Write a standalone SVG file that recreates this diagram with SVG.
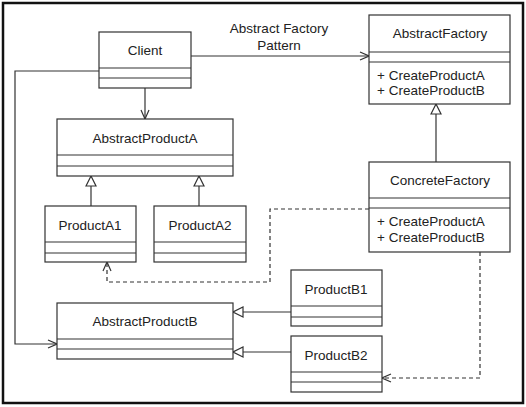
<svg xmlns="http://www.w3.org/2000/svg" width="526" height="407" viewBox="0 0 526 407">
<style>
.box{fill:#fff;stroke:#333;stroke-width:1.2}
.ln{fill:none;stroke:#333;stroke-width:1.2}
.dash{fill:none;stroke:#333;stroke-width:1.2;stroke-dasharray:4 3}
text{font-family:"Liberation Sans",Arial,sans-serif;font-size:13.5px;fill:#222}
.c{text-anchor:middle}
</style>
<defs>
<marker id="open" viewBox="0 0 10 10" refX="10" refY="5" markerWidth="10" markerHeight="10" markerUnits="userSpaceOnUse" orient="auto">
<path d="M1,1 L10,5 L1,9" fill="none" stroke="#333" stroke-width="1.2"/>
</marker>
<marker id="tri" viewBox="0 0 12 12" refX="11" refY="6" markerWidth="12" markerHeight="12" markerUnits="userSpaceOnUse" orient="auto">
<path d="M1,1 L11,6 L1,11 Z" fill="#fff" stroke="#333" stroke-width="1.2"/>
</marker>
</defs>
<rect x="3" y="3" width="520" height="400" fill="#fff" stroke="#111" stroke-width="2.5"/>
<g id="connectors">
<line class="ln" x1="191" y1="56" x2="369" y2="56" marker-end="url(#open)"/>
<line class="ln" x1="145" y1="88" x2="145" y2="119" marker-end="url(#open)"/>
<polyline class="ln" points="99,71 15,71 15,344 57,344" marker-end="url(#open)"/>
<line class="ln" x1="436" y1="162" x2="436" y2="104" marker-end="url(#tri)"/>
<line class="ln" x1="91" y1="206" x2="91" y2="176" marker-end="url(#tri)"/>
<line class="ln" x1="199" y1="206" x2="199" y2="176" marker-end="url(#tri)"/>
<line class="ln" x1="291" y1="312" x2="233" y2="312" marker-end="url(#tri)"/>
<line class="ln" x1="291" y1="352" x2="233" y2="352" marker-end="url(#tri)"/>
<polyline class="dash" points="369,209 270,209 270,282 107,282 107,262" marker-end="url(#open)"/>
<polyline class="dash" points="480,252 480,378 382,378" marker-end="url(#open)"/>
</g>
<text class="c" x="279" y="33">Abstract Factory</text>
<text class="c" x="279" y="50">Pattern</text>
<g id="client">
<rect class="box" x="99" y="32" width="92" height="56"/>
<line class="ln" x1="99" y1="68" x2="191" y2="68"/>
<line class="ln" x1="99" y1="78" x2="191" y2="78"/>
<text class="c" x="145" y="55">Client</text>
</g>
<g id="abstractFactory">
<rect class="box" x="369" y="15" width="141" height="89"/>
<line class="ln" x1="369" y1="52" x2="510" y2="52"/>
<line class="ln" x1="369" y1="62" x2="510" y2="62"/>
<text class="c" x="440" y="38">AbstractFactory</text>
<text x="377" y="80">+ CreateProductA</text>
<text x="377" y="95">+ CreateProductB</text>
</g>
<g id="abstractProductA">
<rect class="box" x="57" y="119" width="176" height="57"/>
<line class="ln" x1="57" y1="155" x2="233" y2="155"/>
<line class="ln" x1="57" y1="166" x2="233" y2="166"/>
<text class="c" x="145" y="143">AbstractProductA</text>
</g>
<g id="concreteFactory">
<rect class="box" x="369" y="162" width="141" height="90"/>
<line class="ln" x1="369" y1="198" x2="510" y2="198"/>
<line class="ln" x1="369" y1="208" x2="510" y2="208"/>
<text class="c" x="440" y="185">ConcreteFactory</text>
<text x="377" y="226">+ CreateProductA</text>
<text x="377" y="242">+ CreateProductB</text>
</g>
<g id="productA1">
<rect class="box" x="45" y="206" width="91" height="56"/>
<line class="ln" x1="45" y1="242" x2="136" y2="242"/>
<line class="ln" x1="45" y1="253" x2="136" y2="253"/>
<text class="c" x="90" y="230">ProductA1</text>
</g>
<g id="productA2">
<rect class="box" x="154" y="206" width="92" height="56"/>
<line class="ln" x1="154" y1="242" x2="246" y2="242"/>
<line class="ln" x1="154" y1="253" x2="246" y2="253"/>
<text class="c" x="200" y="230">ProductA2</text>
</g>
<g id="abstractProductB">
<rect class="box" x="57" y="303" width="176" height="56"/>
<line class="ln" x1="57" y1="339" x2="233" y2="339"/>
<line class="ln" x1="57" y1="349" x2="233" y2="349"/>
<text class="c" x="145" y="326">AbstractProductB</text>
</g>
<g id="productB1">
<rect class="box" x="291" y="270" width="91" height="56"/>
<line class="ln" x1="291" y1="306" x2="382" y2="306"/>
<line class="ln" x1="291" y1="317" x2="382" y2="317"/>
<text class="c" x="336" y="294">ProductB1</text>
</g>
<g id="productB2">
<rect class="box" x="291" y="336" width="91" height="56"/>
<line class="ln" x1="291" y1="372" x2="382" y2="372"/>
<line class="ln" x1="291" y1="382" x2="382" y2="382"/>
<text class="c" x="336" y="360">ProductB2</text>
</g>
</svg>
